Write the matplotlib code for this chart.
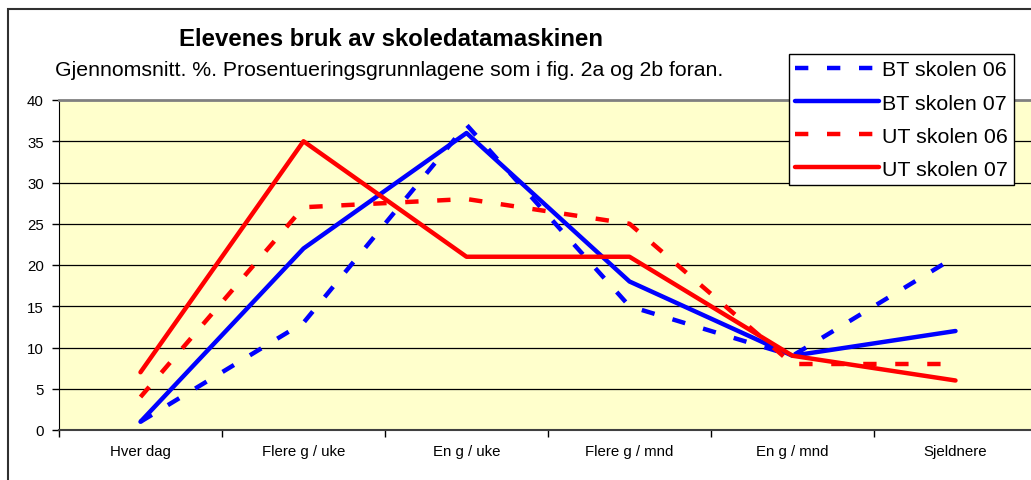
import numpy as np
import matplotlib.pyplot as plt
from matplotlib.patches import Rectangle

plt.rcParams['font.family'] = ['Liberation Sans', 'DejaVu Sans']

categories = ['Hver dag', 'Flere g / uke', 'En g / uke', 'Flere g / mnd', 'En g / mnd', 'Sjeldnere']
bt06 = [1, 13, 37, 15, 9, 21]
bt07 = [1, 22, 36, 18, 9, 12]
ut06 = [4, 27, 28, 25, 8, 8]
ut07 = [7, 35, 21, 21, 9, 6]

fig = plt.figure(figsize=(10.31, 4.81), dpi=100)
ax = fig.add_axes([59/1031, 50/481, 978/1031, 330/481])
ax.set_facecolor('#FFFFCC')

x = np.arange(len(categories))
lw = 3.2
ax.plot(x, bt06, color='#0000FF', lw=lw, dashes=(3, 4.2), dash_capstyle='butt', label='BT skolen 06', zorder=3)
ax.plot(x, bt07, color='#0000FF', lw=lw, solid_capstyle='round', label='BT skolen 07', zorder=3)
ax.plot(x, ut06, color='#FF0000', lw=lw, dashes=(3, 4.2), dash_capstyle='butt', label='UT skolen 06', zorder=3)
ax.plot(x, ut07, color='#FF0000', lw=lw, solid_capstyle='round', label='UT skolen 07', zorder=3)

ax.set_xlim(-0.5, len(categories) - 0.5)
ax.set_ylim(0, 40)
ax.set_yticks(range(0, 41, 5))
ax.set_xticks(x)
ax.set_xticklabels(categories, fontsize=10.8)
ax.set_xticks(np.arange(-0.5, len(categories), 1), minor=True)
ax.tick_params(axis='x', which='major', length=0, pad=10)
ax.tick_params(axis='x', which='minor', length=5, direction='out', width=1)
ax.tick_params(axis='y', length=5, width=1, labelsize=10.8, pad=6)
for v in range(5, 40, 5):
    ax.axhline(v, color='black', lw=0.9, zorder=1)
ax.spines['top'].set_color('#808080')
ax.spines['top'].set_linewidth(2)
ax.spines['right'].set_visible(False)
ax.spines['left'].set_color('black')
ax.spines['bottom'].set_color('#404040')
ax.spines['bottom'].set_linewidth(1.5)

fig.text(391/1031, 1 - 40/481, 'Elevenes bruk av skoledatamaskinen', fontsize=17.3,
         fontweight='bold', ha='center', va='center')
fig.text(55/1031, 1 - 71/481, 'Gjennomsnitt. %. Prosentueringsgrunnlagene som i fig. 2a og 2b foran.',
         fontsize=15.3, ha='left', va='center')

leg = fig.legend(loc='upper left', bbox_to_anchor=(789/1031, 1 - 55/481), fontsize=15.4,
                 frameon=True, fancybox=False, edgecolor='black', framealpha=1,
                 borderaxespad=0, borderpad=0.3, handletextpad=0.15, labelspacing=0.66,
                 handlelength=3.9)
leg.get_frame().set_linewidth(1)

fig.patches.append(Rectangle((8/1031, -0.1), 1.2, 1.1 - 10/481, transform=fig.transFigure,
                             fill=False, edgecolor='#303030', lw=1.5))

fig.savefig('out.png', dpi=100)
